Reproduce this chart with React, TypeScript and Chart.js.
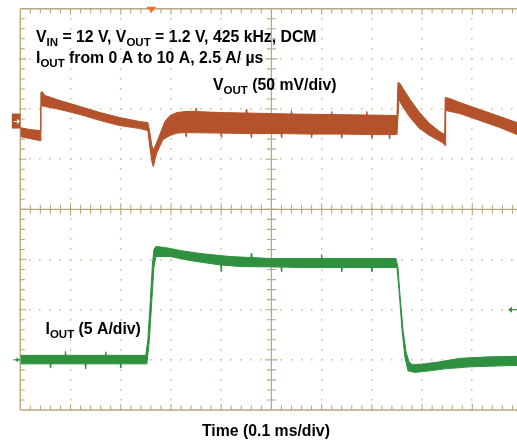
import { useEffect, useRef } from 'react';
import { Chart, registerables } from 'chart.js';

Chart.register(...registerables);

// ---- Data (time in µs, VOUT deviation in mV, IOUT in A) ----
const vUpperTime = [0, 19, 40, 41, 43, 49, 79, 119, 159, 198, 238, 254, 258, 262, 265, 268, 274, 280, 288, 298, 312, 328, 349, 350, 351, 397, 449, 450, 451, 497, 539, 540, 541, 619, 620, 621, 689, 690, 691, 750, 752, 756, 762, 776, 795, 815, 835, 845, 846, 855, 875, 915, 955, 989];
const vUpperMv = [-6, -8, -9, 29, 30, 26, 21, 15, 9, 4, 0, -1, -11, -24, -28, -25, -18, -10, 0, 6, 9, 10, 10, 13, 10, 9, 8.5, 12, 8.5, 8, 7.5, 11, 7.5, 7, 10, 7, 6.5, 10, 6.5, 6, 39, 38, 33, 22, 9, -2, -10, -13, 24, 23, 19, 12, 5, -1];

const vLowerTime = [0, 19, 40, 41, 49, 79, 119, 159, 198, 238, 254, 258, 262, 265, 268, 272, 284, 298, 312, 329, 330, 331, 399, 400, 401, 459, 460, 461, 519, 520, 521, 579, 580, 581, 639, 640, 641, 699, 700, 701, 734, 735, 736, 750, 754, 760, 776, 795, 815, 841, 846, 847, 875, 915, 955, 989];
const vLowerMv = [-15, -17, -19, 16, 15, 12, 7, 1, -4, -7, -9, -26, -40, -45, -38, -31, -18, -14, -11.5, -11, -15, -11, -11.5, -15.5, -11.5, -12, -16, -12, -12, -16, -12, -12.5, -16, -12.5, -12.5, -16.5, -12.5, -13, -16.5, -13, -13, -17, -13, -13, 22, 16, 4, -7, -14, -21, -24, 11, 8, 1, -6, -13];

const iUpperTime = [0, 89, 90, 91, 169, 170, 171, 250, 254, 259, 263, 266, 270, 288, 318, 358, 417, 459, 460, 461, 497, 599, 600, 601, 656, 748, 752, 756, 762, 768, 774, 781, 805, 835, 875, 935, 989];
const iUpperA = [0.45, 0.45, 0.85, 0.45, 0.45, 0.8, 0.45, 0.45, 2.0, 6.0, 9.5, 11.0, 11.3, 11.2, 10.9, 10.6, 10.3, 10.2, 10.6, 10.2, 10.1, 10.1, 10.5, 10.1, 10.1, 10.1, 9.2, 6.5, 3.0, 0.8, -0.2, -0.5, -0.4, -0.2, 0.15, 0.3, 0.35];

const iLowerTime = [0, 59, 60, 61, 129, 130, 131, 199, 200, 201, 252, 257, 262, 266, 270, 298, 338, 378, 399, 400, 401, 437, 519, 520, 521, 557, 639, 640, 641, 699, 700, 701, 750, 754, 760, 766, 772, 785, 815, 845, 895, 989];
const iLowerA = [-0.4, -0.4, -0.8, -0.4, -0.4, -0.9, -0.4, -0.4, -0.8, -0.4, -0.4, 2.0, 6.0, 9.2, 10.3, 10.3, 9.9, 9.6, 9.45, 8.8, 9.45, 9.3, 9.25, 8.8, 9.25, 9.2, 9.2, 8.8, 9.2, 9.2, 8.8, 9.2, 9.2, 7.0, 3.0, 0.2, -1.1, -1.25, -1.1, -0.9, -0.7, -0.55];

// scope settings
const timePerDiv = 100; // µs
const timeMax = 989; // visible part of the 10-division screen
const vPerDiv = 50; // mV
const vMax = 112.5;
const iPerDiv = 5; // A
const iMax = 35;
const triggerTime = 261; // µs
const iTriggerLevel = 5; // A

const title1: [string, boolean][] = [['V', false], ['IN', true], [' = 12 V, V', false], ['OUT', true], [' = 1.2 V, 425 kHz, DCM', false]];
const title2: [string, boolean][] = [['I', false], ['OUT', true], [' from 0 A to 10 A, 2.5 A/ µs', false]];
const vLabel: [string, boolean][] = [['V', false], ['OUT', true], [' (50 mV/div)', false]];
const iLabel: [string, boolean][] = [['I', false], ['OUT', true], [' (5 A/div)', false]];
const xLabel = 'Time (0.1 ms/div)';

const ORANGE = '#b4532b';
const GREEN = '#2f9140';
const GRID = '#b8a880';
const DOT = '#cfc4a3';
const FONT = '"Liberation Sans", Arial, Helvetica, sans-serif';
const MAIN_SIZE = 15.8;
const SUB_SIZE = 11.5;

function drawRich(ctx: CanvasRenderingContext2D, x: number, y: number, parts: [string, boolean][], size: number, subSize: number, drop: number) {
  let cx = x;
  for (const [t, sub] of parts) {
    ctx.font = `bold ${sub ? subSize : size}px ${FONT}`;
    ctx.fillText(t, cx, y + (sub ? drop : 0));
    cx += ctx.measureText(t).width;
  }
}

const scopePlugin = {
  id: 'scope',
  beforeDatasetsDraw(chart: any) {
    const { ctx, chartArea: a, scales } = chart;
    const xs = scales.x;
    const x0 = xs.getPixelForValue(0);
    const dx = xs.getPixelForValue(timePerDiv) - x0;
    const dy = (a.bottom - a.top) / 8;
    const cxp = xs.getPixelForValue(timePerDiv * 5);
    const cyp = a.top + dy * 4;
    ctx.save();
    // dotted grid
    ctx.fillStyle = DOT;
    for (let i = 1; i < 10; i++) {
      if (i === 5) continue;
      const gx = x0 + i * dx;
      if (gx > a.right) continue;
      for (let k = 0; k <= 40; k++) {
        const gy = a.top + (k * dy) / 5;
        ctx.fillRect(Math.round(gx) - 1, Math.round(gy) - 1, 1.6, 1.6);
      }
    }
    for (let j = 1; j < 8; j++) {
      if (j === 4) continue;
      const gy = a.top + j * dy;
      for (let k = 0; k <= 50; k++) {
        const gx = x0 + (k * dx) / 5;
        if (gx > a.right) break;
        ctx.fillRect(Math.round(gx) - 1, Math.round(gy) - 1, 1.6, 1.6);
      }
    }
    // border & center axes
    ctx.strokeStyle = GRID;
    ctx.lineWidth = 1.4;
    ctx.beginPath();
    ctx.moveTo(x0, a.top);
    ctx.lineTo(a.right + 5, a.top);
    ctx.moveTo(x0, a.bottom);
    ctx.lineTo(a.right + 5, a.bottom);
    ctx.moveTo(x0, a.top);
    ctx.lineTo(x0, a.bottom);
    ctx.stroke();
    ctx.lineWidth = 1.2;
    ctx.beginPath();
    ctx.moveTo(x0, cyp);
    ctx.lineTo(a.right + 5, cyp);
    ctx.moveTo(cxp, a.top);
    ctx.lineTo(cxp, a.bottom);
    ctx.stroke();
    // ticks
    ctx.lineWidth = 1.1;
    ctx.beginPath();
    for (let k = 1; k <= 50; k++) {
      const tx = x0 + (k * dx) / 5;
      if (tx > a.right + 1) break;
      const major = k % 5 === 0;
      const L = major ? 6 : 4.5;
      ctx.moveTo(tx, a.top);
      ctx.lineTo(tx, a.top + L);
      ctx.moveTo(tx, a.bottom);
      ctx.lineTo(tx, a.bottom - L);
      ctx.moveTo(tx, cyp - L);
      ctx.lineTo(tx, cyp + L);
    }
    for (let k = 1; k < 40; k++) {
      const ty = a.top + (k * dy) / 5;
      const major = k % 5 === 0;
      const L = major ? 6 : 4.5;
      ctx.moveTo(x0, ty);
      ctx.lineTo(x0 + L, ty);
      ctx.moveTo(cxp - L, ty);
      ctx.lineTo(cxp + L, ty);
    }
    ctx.stroke();
    ctx.restore();
  },
  afterDraw(chart: any) {
    const { ctx, chartArea: a, scales } = chart;
    ctx.save();
    // channel markers
    const vy = scales.yV.getPixelForValue(0);
    ctx.fillStyle = ORANGE;
    ctx.fillRect(a.left - 8.5, vy - 8, 8.5, 15);
    ctx.fillStyle = '#fff';
    ctx.beginPath();
    ctx.moveTo(a.left - 6.5, vy - 0.5);
    ctx.lineTo(a.left - 3, vy - 0.5);
    ctx.lineTo(a.left - 3, vy - 3);
    ctx.lineTo(a.left - 0.5, vy);
    ctx.lineTo(a.left - 3, vy + 3);
    ctx.lineTo(a.left - 3, vy + 0.5);
    ctx.lineTo(a.left - 6.5, vy + 0.5);
    ctx.closePath();
    ctx.fill();
    const iy = scales.yI.getPixelForValue(0);
    ctx.strokeStyle = GREEN;
    ctx.fillStyle = GREEN;
    ctx.lineWidth = 1.2;
    ctx.beginPath();
    ctx.moveTo(a.left - 7, iy);
    ctx.lineTo(a.left, iy);
    ctx.stroke();
    ctx.beginPath();
    ctx.moveTo(a.left - 1, iy);
    ctx.lineTo(a.left - 4, iy - 2.5);
    ctx.lineTo(a.left - 4, iy + 2.5);
    ctx.closePath();
    ctx.fill();
    const ty = scales.yI.getPixelForValue(iTriggerLevel);
    ctx.beginPath();
    ctx.moveTo(a.right - 6, ty);
    ctx.lineTo(a.right, ty);
    ctx.stroke();
    ctx.beginPath();
    ctx.moveTo(a.right - 9, ty);
    ctx.lineTo(a.right - 5, ty - 3);
    ctx.lineTo(a.right - 5, ty + 3);
    ctx.closePath();
    ctx.fill();
    // trigger marker at top
    const tx = scales.x.getPixelForValue(triggerTime);
    ctx.fillStyle = '#f36f2a';
    ctx.beginPath();
    ctx.moveTo(tx - 5, a.top - 2);
    ctx.lineTo(tx + 5, a.top - 2);
    ctx.lineTo(tx, a.top + 4);
    ctx.closePath();
    ctx.fill();
    // texts
    ctx.fillStyle = '#000';
    ctx.textBaseline = 'alphabetic';
    ctx.textAlign = 'left';
    drawRich(ctx, 36, 41.5, title1, MAIN_SIZE, SUB_SIZE, 4);
    drawRich(ctx, 36, 62.5, title2, MAIN_SIZE, SUB_SIZE, 4);
    drawRich(ctx, 213, 90, vLabel, MAIN_SIZE, SUB_SIZE, 4);
    drawRich(ctx, 45.5, 334, iLabel, MAIN_SIZE, SUB_SIZE, 4);
    ctx.font = `bold ${MAIN_SIZE}px ${FONT}`;
    ctx.fillText(xLabel, 202, 435.5);
    ctx.restore();
  },
};

export default function App() {
  const ref = useRef<HTMLCanvasElement>(null);
  useEffect(() => {
    if (!ref.current) return;
    const pts = (xs: number[], ys: number[]) => xs.map((x, i) => ({ x, y: ys[i] }));
    const chart = new Chart(ref.current, {
      type: 'line',
      data: {
        datasets: [
          { data: pts(vUpperTime, vUpperMv), yAxisID: 'yV', borderColor: ORANGE, borderWidth: 1, pointRadius: 0, tension: 0, fill: false },
          { data: pts(vLowerTime, vLowerMv), yAxisID: 'yV', borderColor: ORANGE, backgroundColor: ORANGE, borderWidth: 1, pointRadius: 0, tension: 0, fill: '-1' },
          { data: pts(iUpperTime, iUpperA), yAxisID: 'yI', borderColor: GREEN, borderWidth: 1, pointRadius: 0, tension: 0, fill: false },
          { data: pts(iLowerTime, iLowerA), yAxisID: 'yI', borderColor: GREEN, backgroundColor: GREEN, borderWidth: 1, pointRadius: 0, tension: 0, fill: '-1' },
        ],
      },
      options: {
        responsive: false,
        animation: false,
        devicePixelRatio: 1,
        layout: { padding: { left: 20.3, top: 8.7, right: 0, bottom: 32 } },
        plugins: { legend: { display: false }, tooltip: { enabled: false } },
        scales: {
          x: { type: 'linear', min: 0, max: timeMax, display: false },
          yV: { type: 'linear', min: vMax - 8 * vPerDiv, max: vMax, display: false },
          yI: { type: 'linear', min: iMax - 8 * iPerDiv, max: iMax, display: false },
        },
      },
      plugins: [scopePlugin],
    });
    return () => chart.destroy();
  }, []);
  return (
    <div style={{ position: 'absolute', left: 0, top: 0, width: 517, height: 442, background: '#fff' }}>
      <canvas ref={ref} width={517} height={442} style={{ display: 'block' }} />
    </div>
  );
}
